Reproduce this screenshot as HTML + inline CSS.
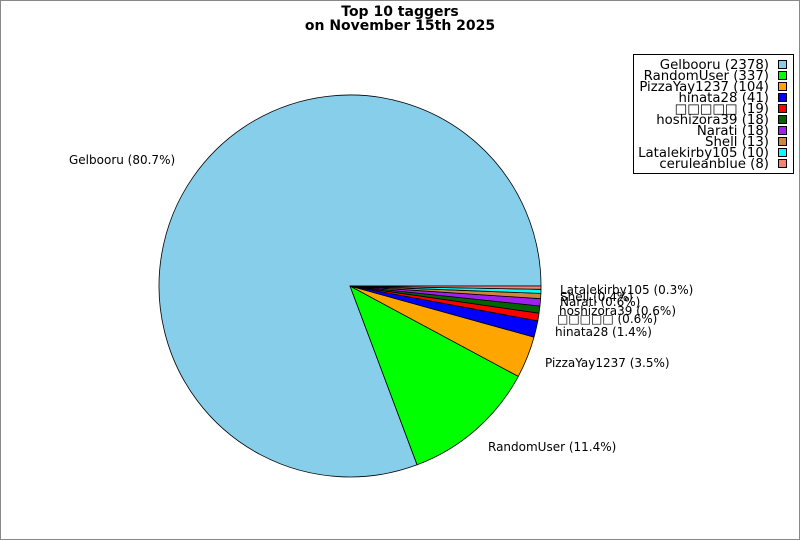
<!DOCTYPE html>
<html><head><meta charset="utf-8"><style>
html,body{margin:0;padding:0;background:#fff;}
svg{display:block;}
text{font-family:"DejaVu Sans","Liberation Sans",sans-serif;fill:#000;}
</style></head><body>
<svg width="800" height="540" viewBox="0 0 800 540" xmlns="http://www.w3.org/2000/svg">
<rect x="0.5" y="0.5" width="799" height="539" fill="#fff" stroke="#888"/>
<text x="400" y="16" font-size="14" font-weight="bold" text-anchor="middle">Top 10 taggers</text>
<text x="400" y="30" font-size="14" font-weight="bold" text-anchor="middle">on November 15th 2025</text>
<g stroke="#000" stroke-width="0.8" stroke-linejoin="round">
<path d="M350,286 L541,286 A191,191 0 1 0 417.1,464.8 Z" fill="#87ceeb"/>
<path d="M350,286 L417.1,464.8 A191,191 0 0 0 518.3,376.4 Z" fill="#00ff00"/>
<path d="M350,286 L518.3,376.4 A191,191 0 0 0 534.0,337.1 Z" fill="#ffa500"/>
<path d="M350,286 L534.0,337.1 A191,191 0 0 0 537.8,320.9 Z" fill="#0000ff"/>
<path d="M350,286 L537.8,320.9 A191,191 0 0 0 539.0,313.2 Z" fill="#ff0000"/>
<path d="M350,286 L539.0,313.2 A191,191 0 0 0 539.9,306.0 Z" fill="#006400"/>
<path d="M350,286 L539.9,306.0 A191,191 0 0 0 540.6,298.7 Z" fill="#a020f0"/>
<path d="M350,286 L540.6,298.7 A191,191 0 0 0 540.9,293.4 Z" fill="#cd853f"/>
<path d="M350,286 L540.9,293.4 A191,191 0 0 0 541.0,289.3 Z" fill="#00ffff"/>
<path d="M350,286 L541.0,289.3 A191,191 0 0 0 541,286 Z" fill="#fa8072"/>
</g>
<g font-size="12">
<text x="69" y="164">Gelbooru (80.7%)</text>
<text x="488" y="451">RandomUser (11.4%)</text>
<text x="545" y="367">PizzaYay1237 (3.5%)</text>
<text x="555" y="336">hinata28 (1.4%)</text>
<text x="557" y="323">□□□□□ (0.6%)</text>
<text x="559" y="315">hoshizora39 (0.6%)</text>
<text x="560" y="306">Narati (0.6%)</text>
<text x="560" y="301">Shell (0.4%)</text>
<text x="560" y="294">Latalekirby105 (0.3%)</text>
</g>
<rect x="633.5" y="54.5" width="160" height="119" fill="#fff" stroke="#000"/>
<g font-size="13.3" text-anchor="end">
<text x="769" y="69">Gelbooru (2378)</text>
<text x="769" y="80">RandomUser (337)</text>
<text x="769" y="91">PizzaYay1237 (104)</text>
<text x="769" y="102">hinata28 (41)</text>
<text x="769" y="113">□□□□□ (19)</text>
<text x="769" y="124">hoshizora39 (18)</text>
<text x="769" y="135">Narati (18)</text>
<text x="769" y="146">Shell (13)</text>
<text x="769" y="157">Latalekirby105 (10)</text>
<text x="769" y="168">ceruleanblue (8)</text>
</g>
<g stroke="#000" stroke-width="1">
<rect x="778.5" y="60.5" width="8" height="8" fill="#87ceeb"/>
<rect x="778.5" y="71.5" width="8" height="8" fill="#00ff00"/>
<rect x="778.5" y="82.5" width="8" height="8" fill="#ffa500"/>
<rect x="778.5" y="93.5" width="8" height="8" fill="#0000ff"/>
<rect x="778.5" y="104.5" width="8" height="8" fill="#ff0000"/>
<rect x="778.5" y="115.5" width="8" height="8" fill="#006400"/>
<rect x="778.5" y="126.5" width="8" height="8" fill="#a020f0"/>
<rect x="778.5" y="137.5" width="8" height="8" fill="#cd853f"/>
<rect x="778.5" y="148.5" width="8" height="8" fill="#00ffff"/>
<rect x="778.5" y="159.5" width="8" height="8" fill="#fa8072"/>
</g>
</svg>
</body></html>
